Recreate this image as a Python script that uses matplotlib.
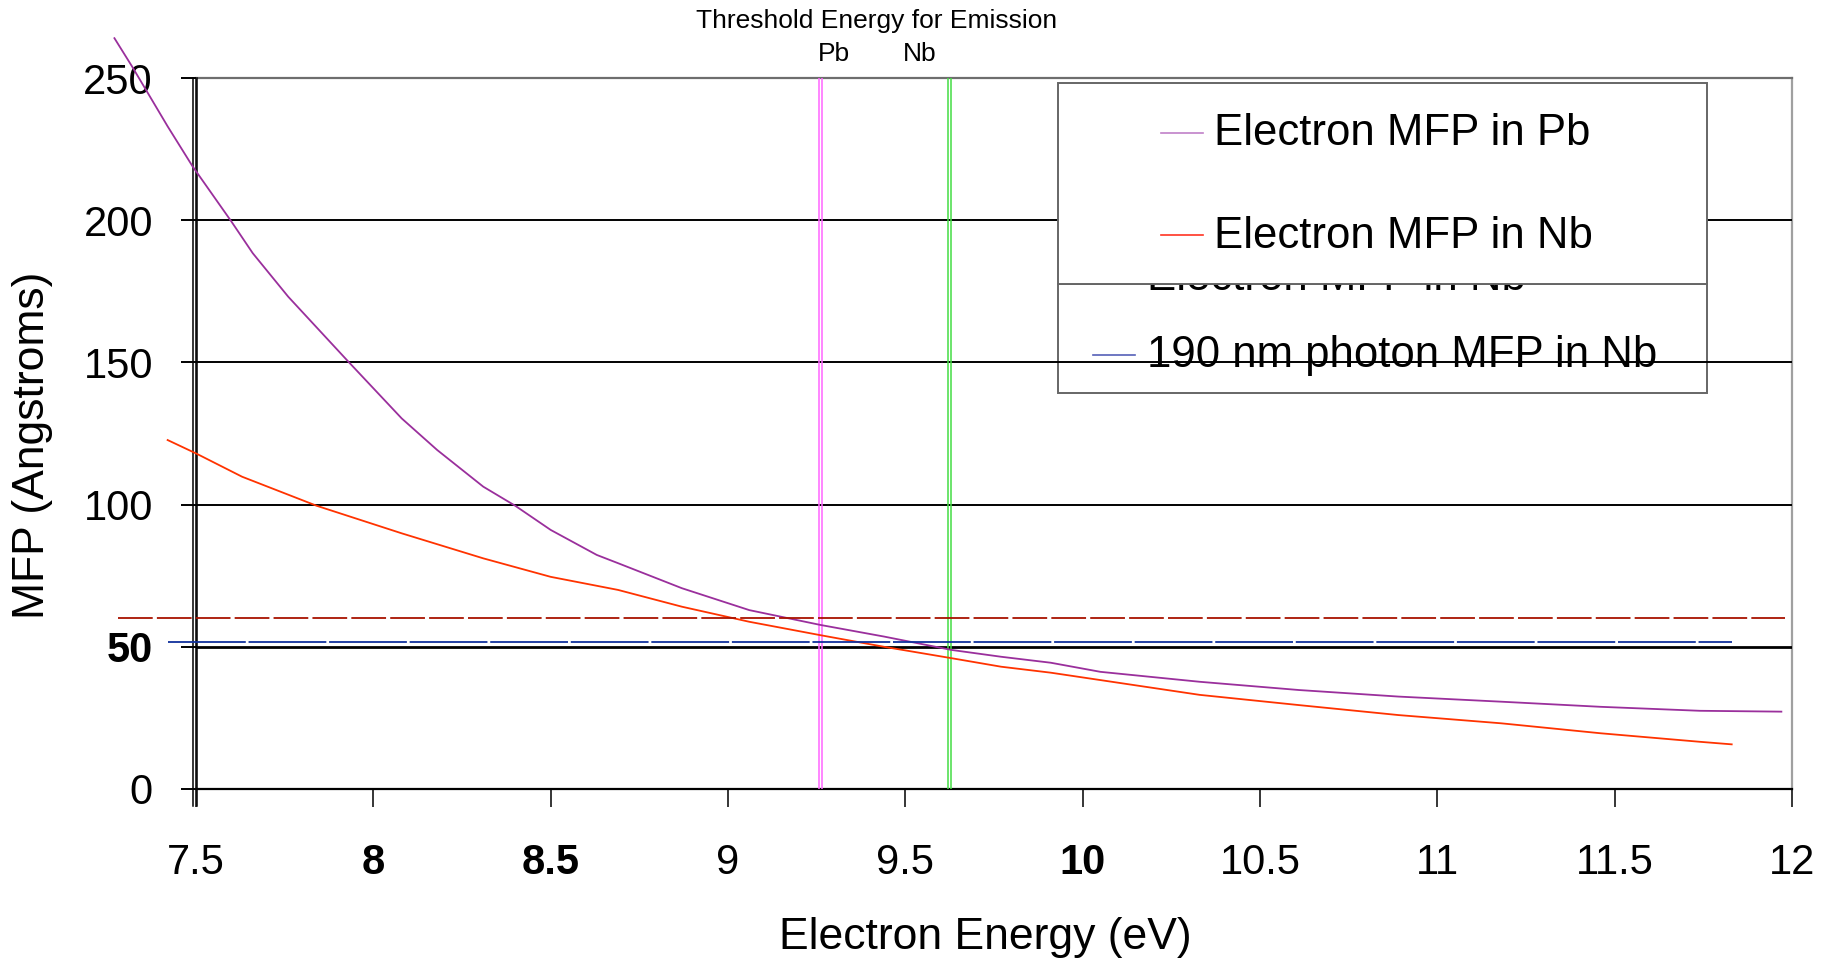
"""
Electron / photon mean free path vs electron energy (Pb, Nb)
"""

import numpy as np
import matplotlib
matplotlib.use('Agg')
import matplotlib.pyplot as plt
from matplotlib.patches import Rectangle
from matplotlib.lines import Line2D
from matplotlib.transforms import blended_transform_factory

plt.rcParams['font.family'] = 'Liberation Sans'
plt.rcParams['lines.scale_dashes'] = False

##### data #####

# electron MFP in Pb
energy_pb = [7.27, 7.32, 7.42, 7.49, 7.60, 7.66, 7.76, 7.93, 8.08, 8.18,
             8.31, 8.40, 8.50, 8.63, 8.69, 8.87, 9.06, 9.26, 9.44, 9.63,
             9.77, 9.91, 10.05, 10.33, 10.61, 10.89, 11.18, 11.46, 11.74, 11.97]
mfp_pb = [264, 254, 233, 219, 199.5, 188.4, 173.1, 150.2, 130.3, 119.2,
          106.3, 99.6, 91.1, 82.3, 79.4, 70.6, 62.9, 57.7, 53.6, 48.9,
          46.5, 44.4, 41.2, 37.7, 34.8, 32.5, 30.7, 28.9, 27.5, 27.2]

# electron MFP in Nb
energy_nb = [7.42, 7.50, 7.63, 7.84, 8.08, 8.31, 8.50, 8.69, 8.87, 9.06,
             9.26, 9.44, 9.63, 9.77, 9.91, 10.05, 10.33, 10.61, 10.89, 11.18,
             11.46, 11.74, 11.83]
mfp_nb = [122.7, 118.0, 109.8, 99.6, 89.9, 81.1, 74.6, 70.0, 64.1, 58.8,
          54.1, 50.0, 46.0, 43.0, 40.9, 38.3, 33.1, 29.5, 26.0, 23.1,
          19.6, 16.6, 15.7]

# flat reference levels
brown_energy = [7.28, 11.98]
brown_mfp = [60.0, 60.0]
photon_energy = [7.42, 11.83]
photon_mfp = [51.6, 51.6]     # 190 nm photon MFP in Nb

# threshold energies for emission
thresh_names = ['Pb', 'Nb']
thresh_energy = [9.26, 9.624]
thresh_label_x = [9.30, 9.54]

x_ticks = [7.5, 8, 8.5, 9, 9.5, 10, 10.5, 11, 11.5, 12]
x_tick_labels = ['7.5', '8', '8.5', '9', '9.5', '10', '10.5', '11', '11.5', '12']
x_bold = ['8', '8.5', '10']
y_ticks = [0, 50, 100, 150, 200, 250]
y_tick_labels = ['0', '50', '100', '150', '200', '250']
y_bold = ['50']

legend_front = ['Electron MFP in Pb', 'Electron MFP in Nb']
legend_back = ['Electron MFP in Nb', '190 nm photon MFP in Nb']

# colours
c_pb = '#9a2f9c'
c_nb = '#ff3300'
c_brown = '#a81200'
c_photon = '#10309c'
c_thresh = ['#ff66ff', '#44dd44']

##### figure #####
W, H = 1839, 961
fig = plt.figure(figsize=(W / 100, H / 100), dpi=100)

def fx(x):
    return x / W

def fy(y):
    return 1 - y / H

ax = fig.add_axes([fx(196), fy(789), (1792 - 196) / W, (789 - 78) / H])
ax.set_xlim(7.5, 12)
ax.set_ylim(0, 250)

# curves
ax.plot(energy_pb, mfp_pb, color=c_pb, lw=1.3, clip_on=False, zorder=3)
ax.plot(energy_nb, mfp_nb, color=c_nb, lw=1.3, clip_on=False, zorder=3)
ax.plot(brown_energy, brown_mfp, color=c_brown, lw=1.3, dashes=(25, 3),
        clip_on=False, zorder=3)
ax.plot(photon_energy, photon_mfp, color=c_photon, lw=1.3, dashes=(56, 2),
        clip_on=False, zorder=3)

# threshold lines (drawn double like the original)
for e, c in zip(thresh_energy, c_thresh):
    for d in (-0.0048, 0.0048):
        ax.axvline(e + d, color=c, lw=1.1, zorder=2.6)

trans = blended_transform_factory(ax.transData, ax.transAxes)
ax.text(9.42, 1.08, 'Threshold Energy for Emission', transform=trans,
        ha='center', va='center', fontsize=19)
for name, xl in zip(thresh_names, thresh_label_x):
    ax.text(xl, 1.034, name, transform=trans, ha='center', va='center',
            fontsize=19)

# grid / spines / ticks
ax.set_xticks(x_ticks)
ax.set_xticklabels(x_tick_labels)
ax.set_yticks(y_ticks)
ax.set_yticklabels(y_tick_labels)
for lab in ax.get_xticklabels():
    if lab.get_text() in x_bold:
        lab.set_fontweight('bold')
for lab in ax.get_yticklabels():
    if lab.get_text() in y_bold:
        lab.set_fontweight('bold')

ax.tick_params(axis='x', direction='out', length=13, width=1.1, pad=26,
               labelsize=30)
ax.tick_params(axis='y', direction='out', length=11, width=1.4, pad=20,
               labelsize=30)
ax.yaxis.grid(True, color='black', lw=1.4)
gl = ax.yaxis.get_gridlines()
gl[1].set_linewidth(2.0)
gl[-1].set_color('#6e6e6e')
ax.set_axisbelow(False)

ax.spines['top'].set_color('#6e6e6e')
ax.spines['top'].set_linewidth(1.6)
ax.spines['right'].set_color('#a0a0a0')
ax.spines['right'].set_linewidth(1.6)
ax.spines['left'].set_linewidth(1.1)
ax.spines['bottom'].set_linewidth(1.6)
# doubled left axis line
for xx in (193.3, 196.5):
    ax.add_line(Line2D([fx(xx), fx(xx)], [fy(78), fy(806)],
                       transform=fig.transFigure, color='black', lw=1.1,
                       clip_on=False, zorder=2.6))

ax.set_xlabel('Electron Energy (eV)', fontsize=32)
ax.xaxis.label.set_va('center')
ax.xaxis.set_label_coords((985 - 196) / 1596, (789 - 938) / 711)
ax.set_ylabel('MFP (Angstroms)', fontsize=32)
ax.yaxis.label.set_va('center')
ax.yaxis.set_label_coords((33 - 196) / 1596, (789 - 445) / 711)

# back legend (transparent, gridlines drawn over it)
ax.add_patch(Rectangle((fx(1058), fy(393)), (1707 - 1058) / W, (393 - 284) / H,
                       transform=fig.transFigure, facecolor='none',
                       edgecolor='#666666', lw=1.4, clip_on=False, zorder=1.5))
ax.text(fx(1147), fy(290), legend_back[0], transform=fig.transFigure,
        ha='left', va='baseline', fontsize=31.5, zorder=1.5)
ax.text(fx(1147), fy(366.7), legend_back[1], transform=fig.transFigure,
        ha='left', va='baseline', fontsize=31.5, zorder=1.5)
ax.add_line(Line2D([fx(1093), fx(1135)], [fy(355), fy(355)],
                   transform=fig.transFigure, color='#5560b8', lw=1.2,
                   clip_on=False, zorder=1.5))

# front legend (opaque)
ax.add_patch(Rectangle((fx(1058), fy(284)), (1707 - 1058) / W, (284 - 82.7) / H,
                       transform=fig.transFigure, facecolor='white',
                       edgecolor='#666666', lw=1.4, clip_on=False, zorder=5))
for label, col, base, hy in zip(legend_front, ['#c080c8', '#ff3322'],
                                [145, 248.3], [132.7, 235]):
    ax.add_line(Line2D([fx(1161), fx(1203)], [fy(hy), fy(hy)],
                       transform=fig.transFigure, color=col, lw=1.2,
                       clip_on=False, zorder=6))
    ax.text(fx(1214), fy(base), label, transform=fig.transFigure,
            ha='left', va='baseline', fontsize=31.5, zorder=6)

plt.savefig('out.png', dpi=100)
plt.close()
